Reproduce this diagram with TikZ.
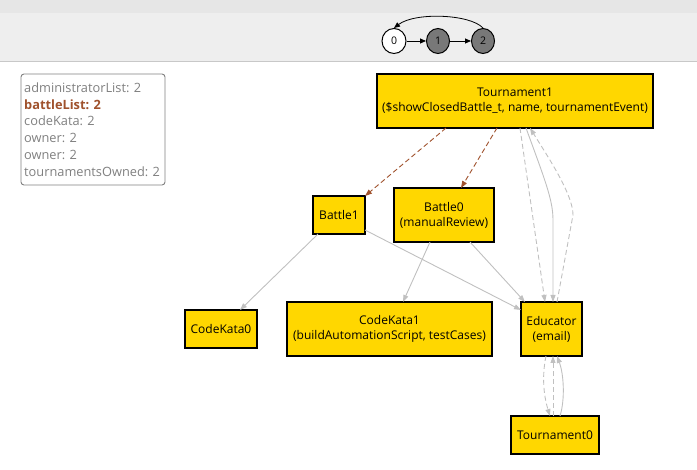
\documentclass[tikz,border=0pt]{standalone}
\usepackage{fontspec}
\setmainfont{Open Sans}
\usetikzlibrary{arrows.meta,shapes.geometric}
\definecolor{nodefill}{HTML}{FFD700}
\definecolor{edgegrey}{HTML}{C0C0C0}
\definecolor{brownedge}{HTML}{A0522D}
\definecolor{legendgrey}{HTML}{808080}
\begin{document}
\begin{tikzpicture}[x=1pt,y=-1pt,
  every node/.style={font=\fontsize{12}{15}\selectfont},
  cls/.style={draw=black,line width=1.3pt,fill=nodefill,align=center,inner sep=0pt,text=black},
  gedge/.style={draw=edgegrey,line width=0.9pt,-{Triangle[length=7pt,width=5pt]}},
  gdash/.style={gedge,dash pattern=on 5pt off 3pt},
  bdash/.style={draw=brownedge,line width=0.9pt,dash pattern=on 5pt off 3pt,-{Triangle[length=7pt,width=5pt]}},
  st/.style={draw=black,line width=1pt,ellipse,minimum width=23pt,minimum height=25pt,inner sep=0pt,font=\fontsize{10.5}{12}\selectfont},
  legline/.style={anchor=west,text=legendgrey,inner sep=0pt,font=\fontsize{12.8}{15}\selectfont}
]
\useasboundingbox (0,0) rectangle (697,470);
% top band
\fill[fill={rgb,255:red,230;green,230;blue,230}] (0,0) rectangle (697,13);
\fill[fill={rgb,255:red,238;green,238;blue,238}] (0,13) rectangle (697,62);
\draw[draw={rgb,255:red,200;green,200;blue,200},line width=1pt] (0,62) -- (697,62);
% state circles
\node[st,fill=white,minimum width=24pt] (s0) at (394,41) {0};
\node[st,fill={rgb,255:red,120;green,120;blue,120}] (s1) at (438,41) {1};
\node[st,fill={rgb,255:red,120;green,120;blue,120}] (s2) at (483,41) {2};
\draw[line width=0.8pt,-{Triangle[length=6pt,width=5pt]}] (s0) -- (s1);
\draw[line width=0.8pt,-{Triangle[length=6pt,width=5pt]}] (s1) -- (s2);
\draw[line width=0.8pt,-{Triangle[length=6pt,width=5pt]}] (s2.north) .. controls (470,14) and (415,12) .. (s0.north);
% legend
\draw[draw={rgb,255:red,128;green,128;blue,128},line width=0.9pt,rounded corners=3pt,fill=white] (21,74) rectangle (165,185);
\node[legline] (l1) at (24,88) {administratorList: 2};
\node[legline,text=brownedge,font=\fontsize{12.8}{15}\selectfont\bfseries] (l2) at (24,104.5) {battleList: 2};
\node[legline] (l3) at (24,121) {codeKata: 2};
\node[legline] (l4) at (24,138) {owner: 2};
\node[legline] (l5) at (24,155) {owner: 2};
\node[legline] (l6) at (24,172) {tournamentsOwned: 2};
% coordinates for edge ends
\coordinate (t1a) at (446,128);
\coordinate (t1b) at (497,128);
\coordinate (t1c) at (520,128);
\coordinate (t1d) at (526,128);
\coordinate (t1e) at (530,128);
\coordinate (b1a) at (365,196);
\coordinate (b1b) at (318,234);
\coordinate (b1c) at (365,230);
\coordinate (b0a) at (461,188);
\coordinate (b0b) at (430,242);
\coordinate (b0c) at (470,242);
\coordinate (ck0a) at (240,310);
\coordinate (ck1a) at (403,302);
\coordinate (eda) at (525,302);
\coordinate (edb) at (521,310);
\coordinate (edc) at (545,302);
\coordinate (edd) at (553,302);
\coordinate (ede) at (557,302);
\coordinate (edf) at (546,356);
\coordinate (edg) at (553,356);
\coordinate (edh) at (557,356);
\coordinate (t0a) at (550,416);
\coordinate (t0b) at (553,416);
\coordinate (t0c) at (560,416);
% nodes
\node[cls,minimum width=276pt,minimum height=54pt] (t1) at (515,101) {Tournament1\\(\$showClosedBattle\_t, name, tournamentEvent)};
\node[cls,minimum width=52pt,minimum height=38pt] (b1) at (339,215) {Battle1};
\node[cls,minimum width=100pt,minimum height=54pt] (b0) at (444,215) {Battle0\\(manualReview)};
\node[cls,minimum width=72pt,minimum height=38pt] (ck0) at (221,329) {CodeKata0};
\node[cls,minimum width=205pt,minimum height=54pt] (ck1) at (389.5,329) {CodeKata1\\(buildAutomationScript, testCases)};
\node[cls,minimum width=61pt,minimum height=54pt] (ed) at (551.5,329) {Educator\\(email)};
\node[cls,minimum width=88pt,minimum height=38pt] (t0) at (555,435) {Tournament0};
% edges
\draw[bdash] (t1a) -- (b1a);
\draw[bdash] (t1b) -- (b0a);
\draw[gedge] (b1b) -- (ck0a);
\draw[gedge] (b0b) -- (ck1a);
\draw[gedge] (b0c) -- (eda);
\draw[gedge] (b1c) -- (edb);
\draw[gdash] (t1c) -- (edc);
\draw[gedge] (t1d) .. controls (545,180) and (553,200) .. (553,220) -- (edd);
\draw[gdash] (ede) -- (573,215) .. controls (573,195) and (550,160) .. (t1e);
\draw[gdash] (edf) .. controls (541,380) and (545,400) .. (t0a);
\draw[gdash] (t0b) -- (edg);
\draw[gedge] (t0c) .. controls (565,400) and (564,375) .. (edh);
\end{tikzpicture}
\end{document}
